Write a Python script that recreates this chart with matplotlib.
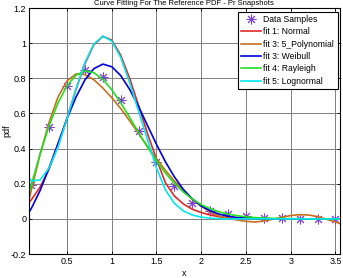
import matplotlib
matplotlib.use('Agg')
import matplotlib.pyplot as plt
from matplotlib.ticker import FormatStrFormatter

plt.rcParams['font.family'] = ['Liberation Sans', 'DejaVu Sans']

# Data samples
x_samples = [0.1, 0.3, 0.5, 0.7, 0.9, 1.1, 1.3, 1.5, 1.7, 1.9, 2.1, 2.3, 2.5, 2.7, 2.9, 3.1, 3.3, 3.5]
y_samples = [0.19, 0.525, 0.755, 0.85, 0.81, 0.676, 0.50, 0.324, 0.188, 0.093, 0.043, 0.026,
             0.014, 0.007, 0.003, 0.002, 0.001, 0.001]

# Fitted curves
x_fit = [0.075, 0.1, 0.2, 0.3, 0.4, 0.5, 0.6, 0.7, 0.8, 0.9, 1.0, 1.1, 1.2, 1.3, 1.4, 1.5, 1.6, 1.7,
         1.8, 1.9, 2.0, 2.1, 2.2, 2.3, 2.4, 2.5, 2.6, 2.7, 2.8, 2.9, 3.0, 3.1, 3.2, 3.3, 3.4, 3.5, 3.55]
y_normal = [0.094, 0.108, 0.181, 0.284, 0.418, 0.574, 0.736, 0.883, 0.991, 1.039, 1.018, 0.932, 0.80,
            0.645, 0.485, 0.34, 0.205, 0.13, 0.085, 0.055, 0.036, 0.022, 0.012, 0.006, 0.003, 0.001,
            0, 0, 0, 0, 0, 0, 0, 0, 0, 0, 0]
y_poly = [0.11, 0.16, 0.37, 0.55, 0.695, 0.785, 0.825, 0.822, 0.792, 0.745, 0.69, 0.628, 0.558, 0.485,
          0.412, 0.342, 0.276, 0.215, 0.16, 0.112, 0.072, 0.04, 0.016, 0.004, -0.006, -0.014, -0.018,
          -0.012, -0.002, 0.009, 0.019, 0.024, 0.022, 0.013, -0.002, -0.018, -0.027]
y_weibull = [0.038, 0.058, 0.162, 0.291, 0.431, 0.570, 0.693, 0.791, 0.855, 0.881, 0.866, 0.816, 0.737,
             0.639, 0.531, 0.424, 0.325, 0.239, 0.168, 0.114, 0.073, 0.046, 0.027, 0.015, 0.008, 0.004,
             0.002, 0.001, 0, 0, 0, 0, 0, 0, 0, 0, 0]
y_rayleigh = [0.144, 0.191, 0.371, 0.531, 0.661, 0.758, 0.818, 0.842, 0.832, 0.795, 0.735, 0.661, 0.577,
              0.491, 0.408, 0.330, 0.261, 0.202, 0.153, 0.113, 0.081, 0.058, 0.040, 0.027, 0.018, 0.012,
              0.007, 0.005, 0.003, 0.002, 0.001, 0.001, 0, 0, 0, 0, 0]
y_lognormal = [0.234, 0.216, 0.222, 0.29, 0.41, 0.57, 0.74, 0.89, 0.995, 1.04, 1.012, 0.92, 0.775, 0.612,
               0.45, 0.29, 0.165, 0.088, 0.045, 0.022, 0.01, 0.004, 0.001, 0, 0, 0, 0, 0, 0, 0, 0, 0,
               0, 0, 0, 0, 0]

fig = plt.figure(figsize=(3.43, 2.78), dpi=100)
ax = fig.add_axes([0.0845, 0.0863, 0.9065, 0.8847])

# asterisk marker like the original
ax.plot(x_samples, y_samples, linestyle='none', marker=(8, 2, 0), color='#8040d0',
        markersize=7, markeredgewidth=0.7, label='Data Samples')
ax.plot(x_fit, y_normal, color='#e02828', lw=1.2, label='fit 1: Normal')
ax.plot(x_fit, y_poly, color='#c8701c', lw=1.2, label='fit 3: 5_Polynomial')
ax.plot(x_fit, y_weibull, color='#0000d8', lw=1.2, label='fit 3: Weibull')
ax.plot(x_fit, y_rayleigh, color='#20e020', lw=1.2, label='fit 4: Rayleigh')
ax.plot(x_fit, y_lognormal, color='#00e8f0', lw=1.2, label='fit 5: Lognormal')

ax.set_xlim(0.075, 3.55)
ax.set_ylim(-0.2, 1.2)
ax.set_xticks([0.5, 1, 1.5, 2, 2.5, 3, 3.5])
ax.set_yticks([-0.2, 0, 0.2, 0.4, 0.6, 0.8, 1, 1.2])
ax.xaxis.set_major_formatter(FormatStrFormatter('%g'))
ax.yaxis.set_major_formatter(FormatStrFormatter('%g'))
ax.tick_params(direction='in', labelsize=6.5, length=2, width=0.6, pad=2,
               top=True, right=True)
ax.grid(True, color='#808080', lw=0.7)
for s in ax.spines.values():
    s.set_linewidth(0.8)
    s.set_color('black')

ax.set_xlabel('x', fontsize=6.5, labelpad=2)
ax.set_ylabel('pdf', fontsize=6.5)
ax.yaxis.set_label_coords(-0.055, 0.5)
fig.text(0.535, 0.999, 'Curve Fitting For The Reference PDF - Pr Snapshots',
         ha='center', va='top', fontsize=5.5)

leg = ax.legend(loc='upper right', bbox_to_anchor=(0.9926, 0.985), fontsize=6.2,
                handlelength=2.3, handletextpad=0.3, labelspacing=0.38,
                borderpad=0.4, borderaxespad=0, fancybox=False, framealpha=1)
leg.get_frame().set_edgecolor('black')
leg.get_frame().set_linewidth(0.8)

fig.savefig('out.png', dpi=100)
